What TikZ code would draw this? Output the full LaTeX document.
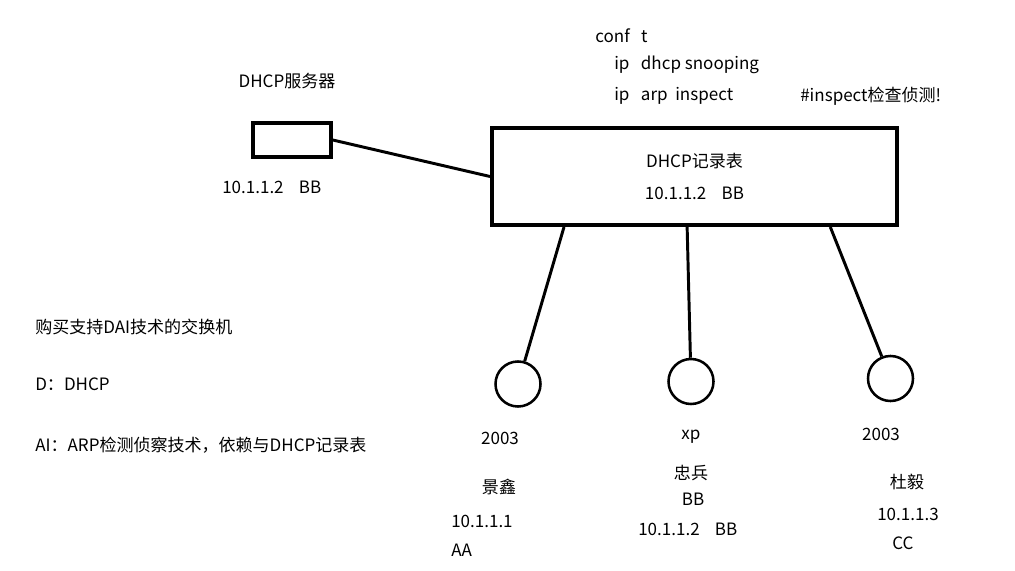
\documentclass[tikz,border=0pt]{standalone}
\usepackage{fontspec}
\setmainfont{Noto Sans CJK SC}
\usetikzlibrary{calc}

\begin{document}
\begin{tikzpicture}[x=0.025cm, y=-0.025cm, font=\fontsize{12.1}{15}\selectfont,
  txt/.style={inner sep=0pt, anchor=west},
  lbl/.style={inner sep=0pt},
  host/.style={draw, circle, line width=1.8pt, minimum size=1.125cm, inner sep=0pt},
  link/.style={line width=2.1pt}]
\useasboundingbox (0,0) rectangle (1015,571);

% switch commands
\node[txt] (conf) at (595,36) {conf\ \ \ t};
\node[txt] (snoop) at (614,65) {ip\ \ \ dhcp snooping};
\node[txt] (arp) at (614,96) {ip\ \ \ arp\ \ inspect};
\node[txt] (note) at (800,96) {\#inspect检查侦测!};

% dhcp server
\node[lbl] (srvname) at (287,81) {DHCP服务器};
\node[draw, line width=2.5pt, minimum width=1.95cm, minimum height=0.85cm, inner sep=0pt] (srv) at (292,140) {};
\node[txt] (srvip) at (222,187) {10.1.1.2\ \ \ \ BB};

% switch
\node[draw, line width=2.8pt, minimum width=10.125cm, minimum height=2.425cm, align=center] (sw) at (694.5,176.5) {DHCP记录表\\[8pt]10.1.1.2\ \ \ \ BB};

% hosts
\node[host] (pc1) at (518,384) {};
\node[host] (pc2) at (691,381.5) {};
\node[host] (pc3) at (890.5,378.5) {};

\draw[link] (srv.east) -- (sw.west);
\draw[link] ($(sw.south west)!0.181!(sw.south east)$) -- (pc1);
\draw[link] ($(sw.south west)!0.482!(sw.south east)$) -- (pc2);
\draw[link] ($(sw.south west)!0.832!(sw.south east)$) -- (pc3);

% host labels
\node[lbl] (os1) at (500,438) {2003};
\node[lbl] (user1) at (499,487) {景鑫};
\node[txt] (ip1) at (451,521) {10.1.1.1};
\node[txt] (mac1) at (451,550) {AA};

\node[lbl] (os2) at (691,437) {xp};
\node[lbl] (user2) at (691,473) {忠兵};
\node[lbl] (mac2) at (693,499) {BB};
\node[txt] (ip2) at (638,529) {10.1.1.2\ \ \ \ BB};

\node[lbl] (os3) at (881,434) {2003};
\node[lbl] (user3) at (907,482) {杜毅};
\node[txt] (ip3) at (877,514) {10.1.1.3};
\node[txt] (mac3) at (892,543) {CC};

% notes
\node[txt] (buy) at (35,327) {购买支持DAI技术的交换机};
\node[txt] (dnote) at (35,384) {D：DHCP};
\node[txt] (ainote) at (35,445) {AI：ARP检测侦察技术，依赖与DHCP记录表};
\end{tikzpicture}
\end{document}
